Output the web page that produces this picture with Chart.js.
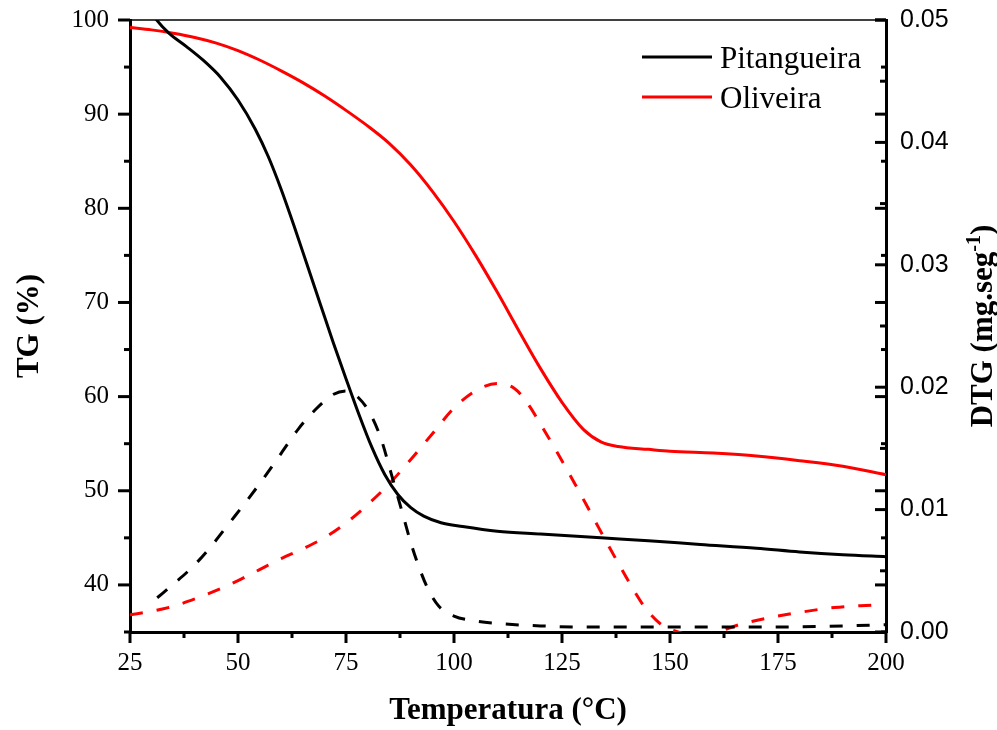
<!DOCTYPE html>
<html>
<head>
<meta charset="utf-8">
<script src="https://cdn.jsdelivr.net/npm/chart.js@4.4.1/dist/chart.umd.min.js"></script>
<style>
    html, body { margin: 0; padding: 0; background: #fff; }
</style>
</head>
<body>
<canvas id="tga" width="997" height="730"></canvas>
<script>
// TG curves (%), temperature in °C
const pitTgTemp = [29, 31, 34, 38, 42, 46, 50, 54, 57, 60, 63, 66, 69, 72, 75, 78, 81, 84, 87, 90, 93, 97, 102, 110, 120, 134, 145, 157, 170, 180, 190, 200];
const pitTg = [101.5, 100.1, 98.6, 97.2, 95.7, 93.9, 91.5, 88.4, 85.5, 82.0, 78.1, 74.0, 69.9, 65.8, 61.9, 58.1, 54.6, 51.7, 49.6, 48.2, 47.3, 46.6, 46.2, 45.7, 45.4, 45.0, 44.7, 44.3, 43.9, 43.5, 43.2, 43.0];

const olivTgTemp = [25, 30, 35, 40, 45, 50, 55, 60, 65, 70, 75, 80, 85, 90, 95, 100, 105, 110, 115, 120, 125, 130, 134, 138, 145, 150, 160, 170, 180, 190, 200];
const olivTg = [99.2, 98.95, 98.6, 98.15, 97.55, 96.75, 95.75, 94.6, 93.35, 91.95, 90.4, 88.75, 86.9, 84.6, 81.8, 78.6, 75.0, 71.1, 67.0, 63.0, 59.4, 56.5, 55.2, 54.7, 54.4, 54.2, 54.0, 53.7, 53.2, 52.6, 51.7];

// DTG curves (mg/s)
const pitDtgTemp = [31.3, 35, 40, 44, 48, 52, 56, 60, 64, 68, 72, 75, 78, 80.5, 83, 85.5, 88, 90, 92, 94, 96.5, 100, 105, 110, 120, 130, 150, 170, 190, 200];
const pitDtg = [0.0028, 0.0039, 0.0055, 0.0071, 0.0089, 0.0107, 0.0126, 0.0146, 0.0166, 0.0182, 0.0194, 0.0197, 0.0191, 0.0179, 0.0159, 0.0129, 0.0098, 0.0073, 0.0052, 0.0035, 0.0021, 0.0013, 0.0009, 0.0007, 0.0005, 0.0004, 0.0004, 0.0004, 0.0005, 0.0006];

const olivDtgTemp = [25, 30, 35, 40, 45, 50, 55, 60, 65, 70, 75, 80, 85, 90, 95, 100, 105, 110, 114, 117, 120, 124, 128, 132, 136, 140, 144, 148, 151, 156, 161, 166, 172, 180, 188, 197];
const olivDtg = [0.0014, 0.0017, 0.0021, 0.0027, 0.0034, 0.0042, 0.0051, 0.0060, 0.0068, 0.0077, 0.0089, 0.0104, 0.0121, 0.0141, 0.0162, 0.0183, 0.0197, 0.0203, 0.0199, 0.0187, 0.0170, 0.0146, 0.0121, 0.0095, 0.0069, 0.0044, 0.0021, 0.0006, 0.0001, -0.0003, 0.0000, 0.0006, 0.0011, 0.0016, 0.0020, 0.0022];

// axis tick labels
const tempTicks = [25, 50, 75, 100, 125, 150, 175, 200];
const tgTicks = [40, 50, 60, 70, 80, 90, 100];
const dtgTicks = [0, 0.01, 0.02, 0.03, 0.04, 0.05];

const serif = "'Liberation Serif', 'Times New Roman', serif";
const sans = "'Liberation Sans', Arial, sans-serif";

function pts(xs, ys) {
    return xs.map((x, i) => ({ x: x, y: ys[i] }));
}

function line(label, xs, ys, color, axis, dashed) {
    return {
        label: label,
        data: pts(xs, ys),
        yAxisID: axis,
        borderColor: color,
        backgroundColor: color,
        borderWidth: 3,
        borderDash: dashed ? [13, 14] : [],
        pointRadius: 0,
        cubicInterpolationMode: "monotone",
        fill: false,
        showInLegend: !dashed,
    };
}

// fixed axis box sizes, no extra label overflow padding
function fixBox(size) {
    return (s) => {
        if (s.isHorizontal()) s.height = size;
        else s.width = size;
        s.paddingTop = 0;
        s.paddingBottom = 0;
    };
}

// outward ticks on left/bottom, inward ticks on the right frame
const tickMarks = {
    id: "tickMarks",
    afterDraw(chart) {
        const { ctx, chartArea: a, scales } = chart;
        const seg = (x1, y1, x2, y2) => {
            ctx.beginPath();
            ctx.moveTo(x1, y1);
            ctx.lineTo(x2, y2);
            ctx.stroke();
        };
        ctx.save();
        ctx.strokeStyle = "#000";

        ctx.lineWidth = 1.5;
        seg(a.left, a.top, a.right, a.top);

        ctx.lineWidth = 3;
        const x = scales.x;
        for (let t = 25; t <= 200; t += 12.5) {
            const p = x.getPixelForValue(t);
            const major = tempTicks.includes(t);
            seg(p, a.bottom, p, a.bottom + (major ? 11 : 6));
        }

        const yl = scales.yTG;
        for (let v = 35; v <= 100; v += 5) {
            const p = yl.getPixelForValue(v);
            const len = tgTicks.includes(v) ? 12 : 6;
            seg(a.left - len, p, a.left, p);
            seg(a.right - len + 1, p, a.right, p);
        }

        const yr = scales.yDTG;
        for (let i = 0; i <= 10; i++) {
            const p = yr.getPixelForValue(i * 0.005);
            const len = i % 2 === 0 ? 11 : 6;
            seg(a.right - len, p, a.right, p);
        }
        ctx.restore();
    },
};

const legendBox = {
    id: "legendBox",
    afterDraw(chart) {
        const { ctx, chartArea: a } = chart;
        const items = chart.data.datasets.filter((ds) => ds.showInLegend);
        ctx.save();
        ctx.font = "31px " + serif;
        ctx.textBaseline = "alphabetic";
        ctx.fillStyle = "#000";
        items.forEach((ds, i) => {
            const y = a.top + 37 + i * 40;
            ctx.strokeStyle = ds.borderColor;
            ctx.lineWidth = 3;
            ctx.beginPath();
            ctx.moveTo(a.right - 244, y);
            ctx.lineTo(a.right - 174, y);
            ctx.stroke();
            ctx.fillText(ds.label, a.right - 166, y + 11);
        });
        ctx.restore();
    },
};

// right axis title with superscript
const dtgTitle = {
    id: "dtgTitle",
    afterDraw(chart) {
        const { ctx, chartArea: a } = chart;
        const main = "DTG (mg.seg";
        const sup = "-1";
        const close = ")";
        ctx.save();
        ctx.fillStyle = "#000";
        ctx.font = "bold 31px " + serif;
        const w1 = ctx.measureText(main).width;
        const w3 = ctx.measureText(close).width;
        ctx.font = "bold 20px " + serif;
        const w2 = ctx.measureText(sup).width;
        const total = w1 + w2 + w3;
        ctx.translate(992, (a.top + a.bottom) / 2);
        ctx.rotate(-Math.PI / 2);
        ctx.textBaseline = "alphabetic";
        let u = -total / 2;
        ctx.font = "bold 31px " + serif;
        ctx.fillText(main, u, 0);
        u += w1;
        ctx.font = "bold 20px " + serif;
        ctx.fillText(sup, u, -12);
        u += w2;
        ctx.font = "bold 31px " + serif;
        ctx.fillText(close, u, 0);
        ctx.restore();
    },
};

new Chart(document.getElementById("tga"), {
    type: "line",
    data: {
        datasets: [
            line("Pitangueira", pitTgTemp, pitTg, "#000000", "yTG", false),
            line("Oliveira", olivTgTemp, olivTg, "#ff0000", "yTG", false),
            line("DTG Pitangueira", pitDtgTemp, pitDtg, "#000000", "yDTG", true),
            line("DTG Oliveira", olivDtgTemp, olivDtg, "#ff0000", "yDTG", true),
        ],
    },
    options: {
        responsive: false,
        animation: false,
        devicePixelRatio: 1,
        layout: { padding: { top: 20, left: 0, right: 0, bottom: 0 } },
        plugins: {
            legend: { display: false },
            tooltip: { enabled: false },
        },
        scales: {
            x: {
                type: "linear",
                position: "bottom",
                min: 25,
                max: 200,
                z: 1,
                afterBuildTicks: (s) => {
                    s.ticks = tempTicks.map((v) => ({ value: v }));
                },
                afterFit: fixBox(98),
                grid: { display: false, drawTicks: false },
                border: { display: true, color: "#000", width: 3 },
                ticks: {
                    autoSkip: false,
                    maxRotation: 0,
                    padding: 16,
                    color: "#000",
                    font: { family: serif, size: 25 },
                },
                title: {
                    display: true,
                    text: "Temperatura (°C)",
                    color: "#000",
                    padding: 0,
                    font: { family: serif, size: 31, weight: "bold" },
                },
            },
            yTG: {
                type: "linear",
                position: "left",
                min: 35,
                max: 100,
                z: 1,
                afterBuildTicks: (s) => {
                    s.ticks = tgTicks.map((v) => ({ value: v }));
                },
                afterFit: fixBox(130),
                grid: { display: false, drawTicks: false },
                border: { display: true, color: "#000", width: 3 },
                ticks: {
                    padding: 21,
                    color: "#000",
                    font: { family: serif, size: 25 },
                },
                title: {
                    display: true,
                    text: "TG (%)",
                    color: "#000",
                    padding: 11,
                    font: { family: serif, size: 31, weight: "bold" },
                },
            },
            yDTG: {
                type: "linear",
                position: "right",
                min: 0,
                max: 0.05,
                z: 1,
                afterBuildTicks: (s) => {
                    s.ticks = dtgTicks.map((v) => ({ value: v }));
                },
                afterFit: fixBox(111),
                grid: { display: false, drawTicks: false },
                border: { display: true, color: "#000", width: 3 },
                ticks: {
                    padding: 14,
                    color: "#000",
                    font: { family: sans, size: 25 },
                    callback: (v) => Number(v).toFixed(2),
                },
            },
        },
    },
    plugins: [tickMarks, legendBox, dtgTitle],
});
</script>
</body>
</html>
